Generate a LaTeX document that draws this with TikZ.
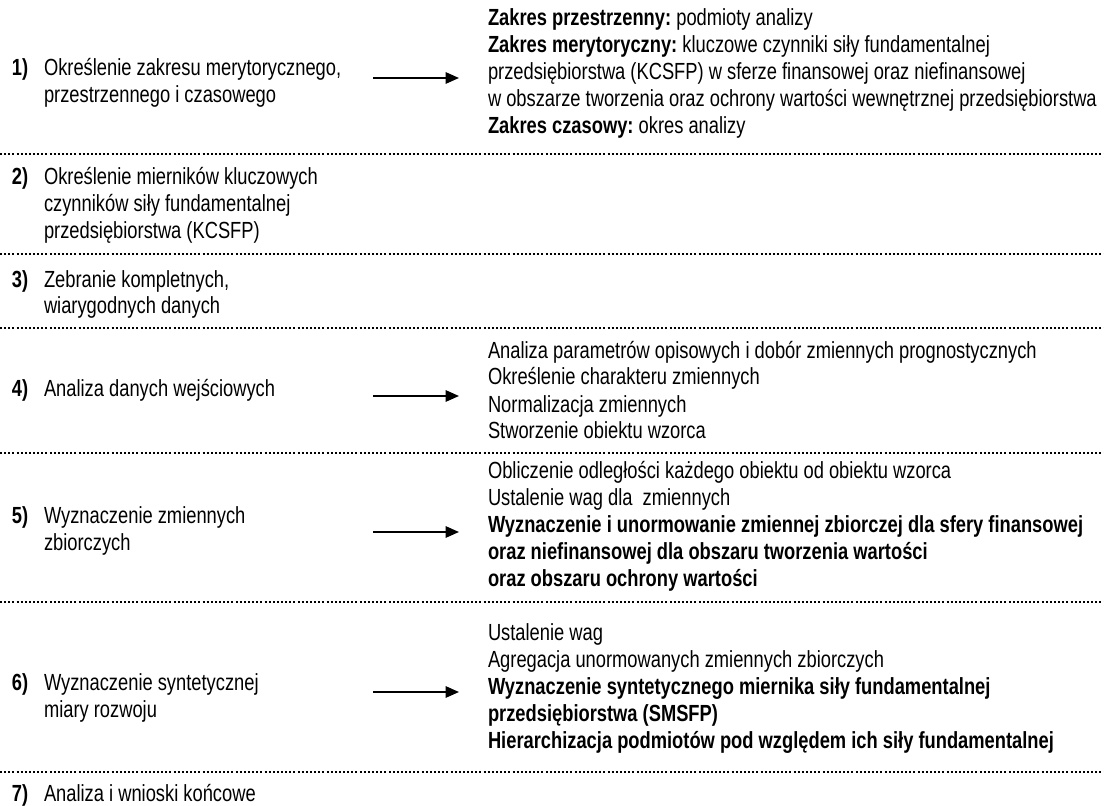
\documentclass[tikz,border=0pt]{standalone}
\usepackage{fontspec}
\setmainfont[FakeStretch=0.785]{Liberation Sans}
\usetikzlibrary{arrows.meta}
\newcommand\rows[1]{\begin{tabular}[t]{@{}l@{}}#1\end{tabular}}
\frenchspacing
\begin{document}
\begin{tikzpicture}[x=0.75pt,y=-0.75pt,
  txt/.style={anchor=base west,inner sep=0pt,outer sep=0pt,
    font=\fontsize{17.5}{20.25}\selectfont},
  num/.style={txt,font=\fontsize{17.5}{20.25}\selectfont\bfseries},
  sep/.style={line width=1.9pt,dash pattern=on 1.5pt off 1.6pt},
  flow/.style={line width=1.3pt,-{Triangle[length=10pt,width=8.5pt]}}]
\useasboundingbox (0,0) rectangle (1104,806);

% separators between the steps
\coordinate (s1a) at (0,154); \coordinate (s1b) at (1104,154);
\coordinate (s2a) at (0,254); \coordinate (s2b) at (1104,254);
\coordinate (s3a) at (0,328); \coordinate (s3b) at (1104,328);
\coordinate (s4a) at (0,453); \coordinate (s4b) at (1104,453);
\coordinate (s5a) at (0,602); \coordinate (s5b) at (1104,602);
\coordinate (s6a) at (0,772); \coordinate (s6b) at (1104,772);
\foreach \k in {1,...,6} \draw[sep] (s\k a) -- (s\k b);

% step 1
\node[num] (n1) at (12,76) {1)};
\node[txt] (l1) at (44,76) {\rows{Określenie zakresu merytorycznego,\\przestrzennego i czasowego}};
\node[txt] (r1) at (488,26) {\rows{\textbf{Zakres przestrzenny:} podmioty analizy\\
\textbf{Zakres merytoryczny:} kluczowe czynniki siły fundamentalnej\\
przedsiębiorstwa (KCSFP) w sferze finansowej oraz niefinansowej\\
w obszarze tworzenia oraz ochrony wartości wewnętrznej przedsiębiorstwa\\
\textbf{Zakres czasowy:} okres analizy}};
\coordinate (a1s) at (373,78); \coordinate (a1e) at (459,78);
\draw[flow] (a1s) -- (a1e);

% step 2
\node[num] (n2) at (12,185) {2)};
\node[txt] (l2) at (44,185) {\rows{Określenie mierników kluczowych\\czynników siły fundamentalnej\\przedsiębiorstwa (KCSFP)}};

% step 3
\node[num] (n3) at (12,287) {3)};
\node[txt] (l3) at (44,287) {\rows{Zebranie kompletnych,\\wiarygodnych danych}};

% step 4
\node[num] (n4) at (12,396) {4)};
\node[txt] (l4) at (44,396) {Analiza danych wejściowych};
\node[txt] (r4) at (488,358) {\rows{Analiza parametrów opisowych i dobór zmiennych prognostycznych\\
Określenie charakteru zmiennych\\
Normalizacja zmiennych\\
Stworzenie obiektu wzorca}};
\coordinate (a4s) at (373,396); \coordinate (a4e) at (459,396);
\draw[flow] (a4s) -- (a4e);

% step 5
\node[num] (n5) at (12,523) {5)};
\node[txt] (l5) at (44,523) {\rows{Wyznaczenie zmiennych\\zbiorczych}};
\node[txt] (r5) at (488,478) {\rows{Obliczenie odległości każdego obiektu od obiektu wzorca\\
Ustalenie wag dla\ \ zmiennych\\
\textbf{Wyznaczenie i unormowanie zmiennej zbiorczej dla sfery finansowej}\\
\textbf{oraz niefinansowej dla obszaru tworzenia wartości}\\
\textbf{oraz obszaru ochrony wartości}}};
\coordinate (a5s) at (373,532); \coordinate (a5e) at (459,532);
\draw[flow] (a5s) -- (a5e);

% step 6
\node[num] (n6) at (12,690) {6)};
\node[txt] (l6) at (44,690) {\rows{Wyznaczenie syntetycznej\\miary rozwoju}};
\node[txt] (r6) at (488,640) {\rows{Ustalenie wag\\
Agregacja unormowanych zmiennych zbiorczych\\
\textbf{Wyznaczenie syntetycznego miernika siły fundamentalnej}\\
\textbf{przedsiębiorstwa (SMSFP)}\\
\textbf{Hierarchizacja podmiotów pod względem ich siły fundamentalnej}}};
\coordinate (a6s) at (373,692); \coordinate (a6e) at (459,692);
\draw[flow] (a6s) -- (a6e);

% step 7
\node[num] (n7) at (12,801) {7)};
\node[txt] (l7) at (44,801) {Analiza i wnioski końcowe};
\end{tikzpicture}
\end{document}
